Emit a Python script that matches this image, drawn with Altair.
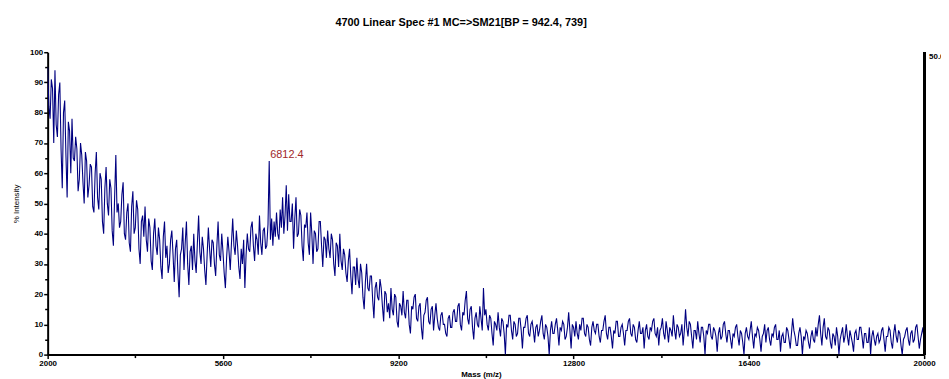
import altair as alt
import pandas as pd

block_2000 = [95, 82, 78, 91, 88, 70, 94, 76, 72, 86, 90, 68, 55, 80, 84, 66, 52, 77, 74, 60,
              78, 65, 64, 72, 68, 54, 58, 70, 66, 57, 50, 67, 64, 52, 56, 63, 62, 49, 47, 60]
block_3000 = [67, 52, 48, 60, 58, 44, 40, 55, 62, 50, 46, 58, 55, 41, 36, 52, 66, 47, 50, 42,
              44, 53, 57, 40, 38, 47, 50, 37, 34, 49, 54, 40, 42, 51, 48, 35, 30, 44, 46, 39]
block_4000 = [49, 38, 34, 45, 42, 31, 28, 40, 45, 36, 33, 42, 38, 29, 25, 39, 44, 32, 36, 27,
              30, 38, 41, 33, 24, 35, 38, 27, 19, 33, 35, 42, 28, 37, 44, 30, 23, 34, 36, 28]
block_5000 = [40, 31, 27, 37, 46, 34, 30, 39, 35, 28, 23, 33, 42, 35, 29, 38, 37, 30, 26, 36,
              44, 33, 31, 40, 34, 27, 22, 32, 39, 34, 28, 37, 45, 36, 33, 41, 36, 29, 25, 35]
block_6000 = [30, 38, 22, 33, 40, 35, 34, 42, 44, 36, 31, 40, 38, 33, 46, 37, 33, 41, 42, 35,
              36, 43, 64, 38, 45, 36, 44, 39, 47, 40, 38, 48, 42, 52, 40, 46, 56, 41, 53, 44]
block_7000 = [44, 50, 35, 45, 52, 39, 40, 48, 46, 36, 31, 43, 42, 47, 37, 33, 47, 40, 30, 41,
              40, 34, 35, 44, 44, 36, 29, 39, 38, 32, 41, 35, 32, 40, 38, 30, 26, 37, 36, 29]
block_8000 = [40, 31, 28, 35, 33, 27, 24, 31, 35, 26, 20, 29, 29, 23, 32, 25, 22, 30, 27, 19,
              15, 24, 30, 22, 21, 26, 26, 18, 12, 22, 24, 19, 18, 25, 22, 16, 11, 21, 20, 14]
block_9000 = [17, 12, 22, 15, 13, 20, 19, 11, 9, 17, 16, 13, 21, 14, 12, 18, 18, 10, 7, 16,
              15, 19, 20, 12, 11, 16, 17, 9, 5, 13, 14, 18, 19, 11, 10, 15, 16, 8, 13, 17]
block_10000 = [12, 9, 8, 13, 14, 10, 10, 7, 6, 12, 13, 9, 9, 14, 15, 11, 11, 16, 17, 10,
               8, 14, 13, 18, 21, 12, 10, 15, 16, 9, 5, 12, 14, 10, 9, 16, 12, 8, 22, 13]
block_11000 = [15, 10, 8, 13, 12, 7, 3, 11, 10, 8, 14, 9, 6, 12, 11, 7, 0, 10, 9, 13,
               13, 8, 5, 11, 10, 6, 7, 12, 12, 8, 2, 9, 9, 12, 13, 7, 6, 10, 11, 8]
block_12000 = [4, 9, 10, 6, 8, 11, 13, 7, 5, 10, 9, 6, 0, 8, 11, 7, 7, 10, 12, 8,
               3, 9, 8, 11, 10, 5, 6, 9, 14, 8, 2, 10, 9, 6, 11, 7, 5, 10, 8, 12]
block_13000 = [12, 7, 6, 10, 9, 5, 3, 9, 11, 8, 7, 10, 10, 6, 4, 8, 8, 11, 13, 7,
               5, 9, 9, 6, 2, 8, 7, 11, 11, 6, 6, 9, 10, 7, 3, 8, 8, 11, 12, 7]
block_14000 = [6, 10, 9, 5, 4, 8, 11, 7, 7, 9, 2, 8, 10, 6, 5, 9, 8, 11, 12, 7,
               6, 9, 3, 8, 9, 12, 7, 5, 11, 8, 4, 9, 8, 6, 13, 8, 5, 10, 9, 6]
block_15000 = [7, 10, 3, 8, 15, 9, 6, 11, 10, 6, 2, 8, 8, 5, 11, 7, 4, 9, 9, 6,
               0, 8, 7, 10, 10, 6, 5, 9, 8, 6, 1, 7, 9, 5, 6, 10, 11, 7, 4, 8]
block_16000 = [8, 5, 2, 7, 6, 9, 10, 6, 3, 8, 7, 4, 0, 7, 9, 6, 5, 8, 11, 6,
               2, 7, 6, 9, 8, 5, 1, 6, 7, 10, 4, 8, 9, 5, 3, 7, 6, 9, 10, 5]
block_17000 = [5, 8, 1, 6, 7, 4, 4, 9, 8, 5, 2, 7, 12, 8, 6, 3, 3, 7, 9, 6,
               0, 6, 5, 8, 7, 4, 2, 6, 8, 5, 4, 9, 6, 10, 13, 7, 3, 9, 12, 6]
block_18000 = [5, 9, 8, 4, 2, 7, 6, 3, 9, 6, 0, 5, 7, 9, 4, 6, 10, 6, 3, 8,
               6, 4, 1, 7, 8, 5, 5, 9, 9, 6, 2, 7, 7, 4, 4, 9, 0, 6, 8, 5]
block_19000 = [3, 6, 7, 4, 5, 8, 9, 5, 1, 6, 6, 9, 8, 4, 2, 7, 10, 6, 4, 8,
               7, 3, 0, 5, 6, 8, 9, 5, 3, 7, 8, 4, 5, 9, 10, 6, 2, 5, 7, 9]
end_value = [4]

blocks = [block_2000, block_3000, block_4000, block_5000, block_6000, block_7000,
          block_8000, block_9000, block_10000, block_11000, block_12000, block_13000,
          block_14000, block_15000, block_16000, block_17000, block_18000, block_19000]
for b in blocks:
    assert len(b) == 40, len(b)
intensity = [v for b in blocks for v in b] + end_value
mass = [2000 + 25 * i for i in range(len(intensity))]

x_ticks = [2000, 3800, 5600, 7400, 9200, 11000, 12800, 14600, 16400, 18200, 20000]
y_ticks = [0, 5, 10, 15, 20, 25, 30, 35, 40, 45, 50, 55, 60, 65, 70, 75, 80, 85, 90, 95, 100]

peak_mass = [6550]
peak_int = [64]
peak_label = ["6812.4"]

title_text = "4700 Linear Spec #1 MC=>SM21[BP = 942.4, 739]"
right_label = "50.0"

df = pd.DataFrame({"mass": mass, "intensity": intensity})
peak_df = pd.DataFrame({"mass": peak_mass, "intensity": peak_int, "label": peak_label})

FONT = "Liberation Sans"

x_scale = alt.Scale(domain=[2000, 20000], nice=False, zero=False)
y_scale = alt.Scale(domain=[0, 100], nice=False)

x_axis = alt.Axis(
    values=x_ticks,
    labelExpr="(datum.value - 2000) % 3600 == 0 ? datum.label : ''",
    format="d",
    grid=False, labelOverlap=False,
    domainColor="black", domainWidth=2,
    tickColor="black", tickWidth=1.5,
    tickSize={"condition": {"test": "(datum.value - 2000) % 3600 == 0", "value": 4}, "value": 3},
    labelFont=FONT, labelFontSize=8, labelFontWeight="bold", labelColor="black",
    labelPadding=1, labelFlush=False,
    title="Mass (m/z)", titleFont=FONT, titleFontSize=8, titleFontWeight="bold",
    titleColor="black", titleY=16, titleBaseline="top", titleX=437,
)
y_axis = alt.Axis(
    values=y_ticks,
    labelExpr="datum.value % 10 == 0 ? datum.label : ''",
    grid=False, labelOverlap=False, labelBound=False, labelFlush=False,
    domainColor="black", domainWidth=2,
    tickColor="black", tickWidth=1.5,
    tickSize={"condition": {"test": "datum.value % 10 == 0", "value": 4}, "value": 3},
    labelFont=FONT, labelFontSize=8, labelFontWeight="bold", labelColor="black",
    labelPadding=1,
    title="% Intensity", titleFont=FONT, titleFontSize=8, titleFontWeight="normal",
    titleColor="black", titleX=-31, titleBaseline="middle",
)

line = alt.Chart(df).mark_line(color="#000080", strokeWidth=1.1, clip=True).encode(
    x=alt.X("mass:Q", scale=x_scale, axis=x_axis),
    y=alt.Y("intensity:Q", scale=y_scale, axis=y_axis),
)

peak_text = alt.Chart(peak_df).mark_text(
    align="left", baseline="bottom", dy=-1, dx=1, font=FONT, fontSize=11, color="#a0282a"
).encode(
    x=alt.X("mass:Q", scale=x_scale, axis=x_axis),
    y=alt.Y("intensity:Q", scale=y_scale, axis=y_axis),
    text="label:N",
)

right_rule = alt.Chart(df).mark_rule(color="black", strokeWidth=2).encode(
    x=alt.value(884), y=alt.value(0), y2=alt.value(305)
)

right_text = alt.Chart(pd.DataFrame({"t": [right_label]})).mark_text(
    align="left", baseline="middle", font=FONT, fontSize=8, fontWeight="bold", color="black"
).encode(x=alt.value(889), y=alt.value(5), text="t:N")

chart = alt.layer(line, peak_text, right_rule, right_text).properties(
    width=884,
    height=305,
    title=alt.TitleParams(
        text=title_text, font=FONT, fontSize=11, fontWeight="bold", color="black",
        anchor="middle", dx=-25, offset=20,
    ),
    autosize=alt.AutoSizeParams(type="none"),
    padding={"left": 40, "top": 43, "right": 17, "bottom": 23},
).configure_view(stroke=None)

chart.save("out.html", embed_options={"renderer": "svg", "actions": False})
